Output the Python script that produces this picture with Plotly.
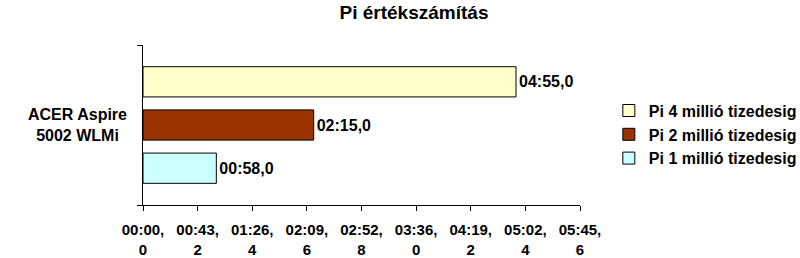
import plotly.graph_objects as go

# ---- data ----
categories = ["ACER Aspire 5002 WLMi"]
category_label = "ACER Aspire<br>5002 WLMi"
series_names = ["Pi 1 millió tizedesig", "Pi 2 millió tizedesig", "Pi 4 millió tizedesig"]
series_seconds = [[58.0], [135.0], [295.0]]  # time in seconds
series_colors = ["#CCFFFF", "#993300", "#FFFFCC"]
tick_values = [0, 43.2, 86.4, 129.6, 172.8, 216.0, 259.2, 302.4, 345.6]
grid_values = tick_values[1:-1]
title_text = "Pi értékszámítás"


def fmt(sec, br=False):
    m = int(sec // 60)
    s = sec - 60 * m
    txt = f"{m:02d}:{int(s):02d},{int(round((s - int(s)) * 10)) % 10}"
    if br:
        txt = txt.replace(",", ",<br>")
    return txt


tick_text = [fmt(v, br=True) for v in tick_values]
FONT = "Arial, Liberation Sans, sans-serif"

fig = go.Figure()
for name, vals, col in zip(series_names, series_seconds, series_colors):
    fig.add_trace(go.Bar(
        name=name, y=categories, x=vals, orientation="h",
        marker=dict(color=col, line=dict(color="black", width=1)),
        text=[fmt(v) for v in vals], textposition="outside",
        textfont=dict(family=FONT, size=16, color="black", weight="bold"),
        constraintext="none", cliponaxis=False,
    ))

fig.update_layout(
    width=800, height=258,
    margin=dict(l=143, r=220, t=45, b=53, autoexpand=False),
    paper_bgcolor="white", plot_bgcolor="white",
    barmode="group", bargap=0.19, bargroupgap=0.30,
    title=dict(text=title_text, x=414 / 800, xref="container", xanchor="center",
               y=1 - 12 / 258, yref="container", yanchor="middle",
               font=dict(family=FONT, size=19, color="black", weight="bold")),
    font=dict(family=FONT, color="black"),
    showlegend=True,
    legend=dict(traceorder="reversed", x=1.066, xanchor="left", y=0.44, yanchor="middle",
                font=dict(family=FONT, size=16, color="black", weight="bold"),
                bgcolor="rgba(0,0,0,0)", itemclick=False),
    xaxis=dict(range=[tick_values[0], tick_values[-1]], tickmode="array",
               tickvals=tick_values, ticktext=tick_text,
               showgrid=False, zeroline=False, showline=True, linecolor="black", linewidth=1,
               ticks="outside", ticklen=5, tickcolor="black", tickwidth=1,
               ticklabelstandoff=6,
               tickfont=dict(family=FONT, size=15, color="black", weight="bold")),
    xaxis2=dict(range=[tick_values[0], tick_values[-1]], overlaying="x", anchor="y",
                tickmode="array", tickvals=grid_values, showticklabels=False, ticks="",
                showgrid=True, gridcolor="black", gridwidth=1, zeroline=False, showline=False),
    yaxis=dict(type="category", categoryarray=categories, showticklabels=False,
               tickson="boundaries", ticks="outside", ticklen=5, tickcolor="black",
               showline=True, linecolor="black", linewidth=1, showgrid=False, zeroline=False),
)

fig.add_annotation(
    text=category_label, x=(77.5 - 143) / 437, xref="paper", xanchor="center",
    y=categories[0], yref="y", yanchor="middle", showarrow=False, align="center",
    font=dict(family=FONT, size=16, color="black", weight="bold"),
)

fig.write_html("out.html")
